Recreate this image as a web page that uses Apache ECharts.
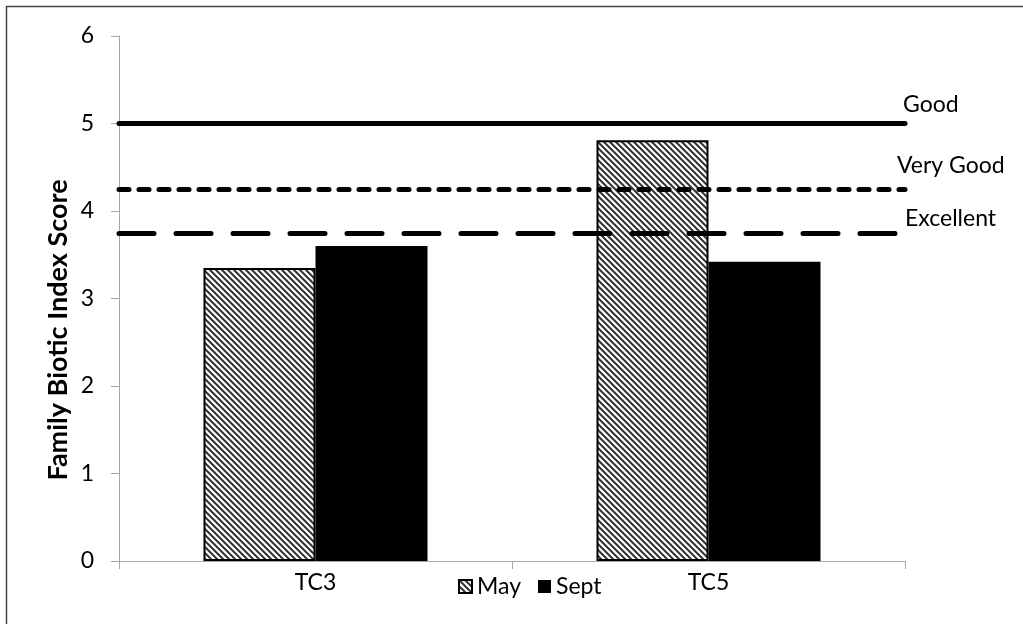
<!DOCTYPE html>
<html><head><meta charset="utf-8">
<script src="https://cdn.jsdelivr.net/npm/echarts@6/dist/echarts.min.js"></script>
<style>html,body{margin:0;padding:0;background:#fff}#c{width:1023px;height:624px}</style>
</head><body><div id="c"></div>
<script>
const categories = ['TC3', 'TC5'];
const mayValues = [3.35, 4.81];
const septValues = [3.6, 3.42];
const refNames = ['Good', 'Very Good', 'Excellent'];
const refValues = [5, 4.25, 3.75];
const yTicks = [0, 1, 2, 3, 4, 5, 6];
const yTitle = 'Family Biotic Index Score';

function stripeCanvas() {
  const s = 6;
  const c = document.createElement('canvas');
  c.width = s; c.height = s;
  const g = c.getContext('2d');
  g.fillStyle = '#fff'; g.fillRect(0, 0, s, s);
  g.strokeStyle = '#333'; g.lineWidth = 2;
  g.beginPath();
  g.moveTo(-1, -1); g.lineTo(s + 1, s + 1);
  g.moveTo(-1, s - 1); g.lineTo(1, s + 1);
  g.moveTo(s - 1, -1); g.lineTo(s + 1, 1);
  g.stroke();
  return c;
}
const pattern = { image: stripeCanvas(), repeat: 'repeat' };
const FONT = 'Lato';

const refStyles = [
  { type: 'solid', cap: 'round', width: 5, offset: [-7, -19] },
  { type: [10, 10], cap: 'round', width: 5, offset: [-13, -24] },
  { type: [35, 22], cap: 'round', width: 5, offset: [-5, -14] }
];

const chart = echarts.init(document.getElementById('c'));
chart.setOption({
  animation: false,
  textStyle: { fontFamily: FONT },
  grid: { left: 119, right: 118, top: 36, bottom: 63 },
  graphic: [
    { type: 'line', shape: { x1: 6, y1: 6.5, x2: 1023, y2: 6.5 }, style: { stroke: '#444', lineWidth: 1.5 } },
    { type: 'line', shape: { x1: 6.5, y1: 6, x2: 6.5, y2: 624 }, style: { stroke: '#444', lineWidth: 1.5 } },
    { type: 'text', x: 58, y: 330, rotation: Math.PI / 2,
      style: { text: yTitle, fontFamily: FONT, fontSize: 27, fontWeight: 'bold', fill: '#000', align: 'center', verticalAlign: 'middle' } }
  ],
  legend: {
    data: ['May', 'Sept'],
    left: 453, top: 570,
    icon: 'rect', itemWidth: 13, itemHeight: 13, itemGap: 17,
    textStyle: { fontSize: 23, color: '#000', fontFamily: FONT }
  },
  xAxis: {
    type: 'category', data: categories,
    axisLine: { lineStyle: { color: '#a6a6a6', width: 1 } },
    axisTick: { show: true, length: 8, lineStyle: { color: '#a6a6a6' } },
    axisLabel: { fontSize: 23, color: '#000', margin: 10 }
  },
  yAxis: {
    type: 'value', min: 0, max: 6, interval: 1,
    axisLine: { show: true, lineStyle: { color: '#a6a6a6', width: 1 } },
    axisTick: { show: true, length: 8, lineStyle: { color: '#a6a6a6' } },
    splitLine: { show: false },
    axisLabel: { fontSize: 23, color: '#000', margin: 25, formatter: v => yTicks.includes(v) ? String(v) : '' }
  },
  series: [
    {
      name: 'May', type: 'bar', data: mayValues,
      barGap: '0%', barCategoryGap: '43%',
      itemStyle: { color: pattern, borderColor: '#000', borderWidth: 2 }
    },
    {
      name: 'Sept', type: 'bar', data: septValues,
      barGap: '0%', barCategoryGap: '43%',
      itemStyle: { color: '#000' },
      markLine: {
        silent: true, symbol: 'none', z: 10,
        data: refValues.map((v, i) => ({
          yAxis: v, name: refNames[i],
          lineStyle: { color: '#000', width: refStyles[i].width, type: refStyles[i].type, cap: refStyles[i].cap },
          label: {
            show: true, position: 'end', formatter: refNames[i],
            fontSize: 23, color: '#000', fontFamily: FONT,
            offset: refStyles[i].offset
          }
        }))
      }
    }
  ]
});
</script></body></html>
